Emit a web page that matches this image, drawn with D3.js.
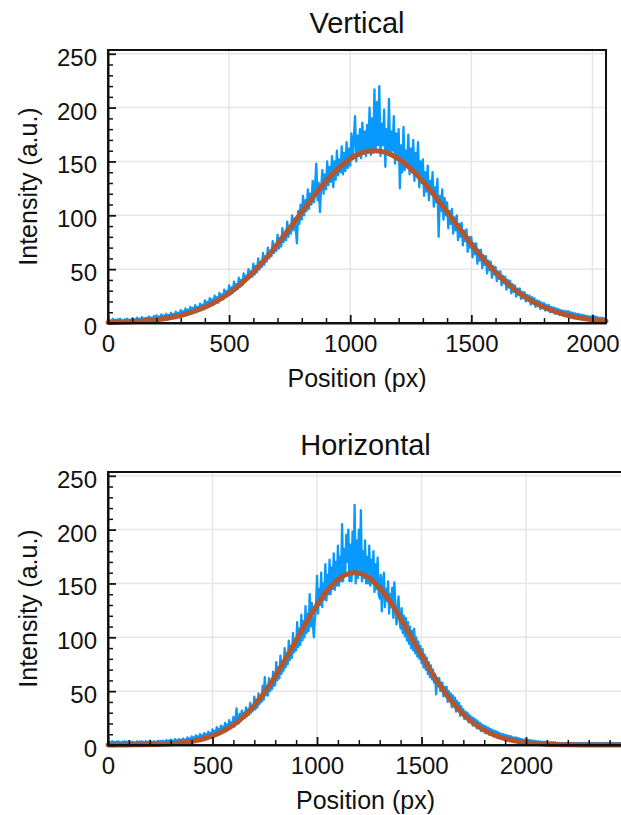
<!DOCTYPE html>
<html><head><meta charset="utf-8">
<script src="https://cdn.jsdelivr.net/npm/d3@7"></script>
<style>
body{margin:0;background:#fff}
svg{display:block}
text{font-family:"Liberation Sans",Arial,sans-serif;fill:#111}
</style>
</head><body><svg id="c" width="621" height="815"></svg>
<script>
// ---------- data ----------
const xStep = 5; // samples every 5 px along the position axis, starting at 0

const verticalSignal = [
 3,1,2.5,1.5,4,1,3,1.5,3.5,1, 4,1.5,2.5,1,3.5,1.5,4,1,3,1.5,
 4.5,2,3.5,1.5,5,2,4,2,5.5,2, 4.5,2.5,5,2,6,3,5,2.5,6.5,3,
 7,3.5,6,3,8,4,7,4.5,8.5,4.5, 7.5,5,9.5,5.5,8.5,6,10.5,6,9.5,7,
 12,6.5,11,7,13.5,8,12.5,8.5,15,9, 14,9.5,16.5,11,15,11.5,18,12,17,13,
 21,14,19.5,15,23,16,22,17,25.5,18.5, 24,19,28,21.5,26.5,22,31,24.5,29.5,25,
 35,26.5,33,28,38.5,30,36,31.5,42,33.5, 40,35,46,38,44,40,50,42,48,43,
 55,45,53,47,60,49.5,57,52,65,54, 62,57,70,60,67,62,76,65,73,67,
 82,69,79,71,88,75,84,77,94,80, 90,83,100,86,97,88,74,104,92,110,
 96,118,100,114,104,124,106,120,110,132, 112,128,148,114,130,103,126,142,120,138,
 124,150,128,145,131,155,126,150,133,160, 137,152,140,164,138,158,141,168,144,162,
 146,176,152,170,192,150,174,155,180,153, 186,160,178,155,184,162,200,156,190,158,
 217,160,205,165,220,155,185,165,198,145, 180,160,208,155,178,160,192,148,176,155,
 180,125,165,140,182,142,160,148,175,138, 162,140,170,132,158,138,168,126,150,130,
 152,118,140,122,146,114,132,120,140,108, 126,112,134,80,118,104,124,96,116,100,
 112,88,104,92,106,83,98,86,100,77, 92,80,93,72,86,76,87,66,80,70,
 80,61,74,64,74,55,68,58,68,51, 63,54,62,46,58,49,57,42,53,45,
 52,39,48,41,48,35,44,37,43,31, 40,33,39,27.5,36,29,35,24.5,32,26,
 32,22.5,29,23,28.5,20,26,21,25.5,17, 24,18,23,15,21,16,20.5,13,19,14,
 18.5,11.5,17,12,16.5,10,15,10.5,14.5,8.5, 13.5,9,13,7.5,12,8,11.5,6.5,11,7,
 11,5.5,10,6,9.5,4.5,9,5,8.5,4, 8,4.5,7.5,3.5,7,4,6.5,3,6,3.5,
 7,3,6,3.5,5.5,2.5,5,3,5,2.5,4.5,2.5
];

const horizontalSignal = [
 3,1,2.5,1.5,3.5,1,3,1.5,3,1, 3.5,1.5,2.5,1,3,1.5,3.5,1,3,1.5,
 3.5,1,3,1.5,3,1.5,2.5,1,3.5,1, 3,1.5,3.5,1,3,1.5,3.5,1.5,3,1.5,
 4,1.5,3,1.5,3.5,1.5,3,2,4,2, 3.5,2,4,2,3.5,2,4.5,2,4,2,
 5,2,4,2.5,5.5,2.5,4.5,2.5,5.5,2.5, 5,3,6,3,5,3,7,3.5,6,3.5,
 8,4,7,4.5,9,4.5,8,5,10,5.5, 9,6,11,6.5,10,7,12.5,7.5,11,8,
 14.5,8,13,9,16.5,10,15,11,18,12, 17,13,20.5,14,19,15,23,16.5,21,17.5,
 26,17,24,34,22,20,29,22,32,24, 30,25,35,26.5,33,28,39,30,36,32,
 45,33,42,35,48,38,45,40,55,42, 63,46,50,46,62,50,57,52,68,55,
 56,77,60,72,62,83,66,78,69,90, 72,85,75,97,79,92,81,104,86,98,
 88,114,91,108,93,121,97,115,100,129, 104,122,106,140,110,132,112,100,118,128,
 157,122,145,130,160,128,150,135,168,134, 158,140,172,140,165,145,178,144,170,148,
 185,148,175,152,205,152,182,158,195,170, 200,152,186,152,198,160,223,150,190,155,
 200,160,218,152,180,155,190,150,175,150, 185,148,172,150,180,142,168,145,174,140,
 136,158,124,150,160,128,145,134,152,122, 140,128,146,118,151,130,112,125,138,115,
 108,127,104,120,101,118,97,114,94,110, 90,106,88,108,85,100,82,96,80,92,
 76,89,72,84,70,81,66,77,63,74, 61,70,58,66,47,62,55,62,50,58,
 58,45,54,47,54,40,50,42,48,35, 46,37,44,31,41,33,39,27,36,29,
 33,24,31,25,30,21,28,22,26,18, 25,19,23.5,15.5,22,16.5,20.5,13,19,14,
 18,11,17,11.5,16,9.5,15,10,14,8, 13,8.5,12.5,6.5,11.5,7,10.5,5.5,10,6,
 9.5,5,9,5.5,8.5,4,8,4.5,7,3.5, 7,4,6.5,3,6,3.5,5.5,2.5,5,3,
 5,2,4.5,2.5,4.5,1.5,4,2,4,1.5, 3.5,1.5,3.5,1,3,1.5,3,1,3,1,
 3,1,2.5,1,2.5,0.5,2.5,1,2.5,0.5, 2,1,2,0.5,2,0.5,2,0.5,2,0.5,
 2,0.5,2,1,2,0.5,2,0.5,2,0.5, 2,0.5,2,1,2,0.5,2,0.5,2,0.5,
 2,0.5,2,0.5,2,1,2,0.5,2,0.5, 2,0.5,2,0.5,2,1,2,0.5,2,0.5,
 2,0.5,2,0.5,2,1,2,0.5,2,0.5,2,0.5,2
];

const verticalFitX = [0,50,100,150,200,250,300,350,400,450,500,550,600,650,700,750,800,850,900,950,1000,1050,1100,1150,1200,1250,1300,1350,1400,1450,1500,1550,1600,1650,1700,1750,1800,1850,1900,1950,2000,2056];
const verticalFitY = [0.4,0.7,1.2,2.0,3.1,4.7,7.0,10.3,14.6,20.3,27.6,36.5,47.2,59.5,73.3,88.0,103.1,117.9,131.6,143.4,152.4,158.1,160,158.1,152.4,143.4,131.6,117.9,103.1,88.0,73.3,59.5,47.2,36.5,27.6,20.3,14.6,10.3,7.0,4.7,3.1,1.8];

const horizontalFitX = [0,100,200,250,300,350,400,450,500,550,600,650,700,750,800,850,900,950,1000,1050,1100,1150,1180,1200,1250,1300,1350,1400,1450,1500,1550,1600,1650,1700,1750,1800,1850,1900,1950,2000,2050,2100,2150,2200,2300,2400,2464];
const horizontalFitY = [0,0.1,0.35,0.64,1.15,2.0,3.3,5.3,8.4,12.7,18.7,26.7,36.8,49.2,63.7,79.9,97.0,114.2,130.1,143.6,153.6,159.1,160,159.6,155.1,146.0,133.1,117.5,100.5,83.3,66.8,52.0,39.1,28.5,20.1,13.8,9.1,5.9,3.6,2.2,1.3,0.7,0.4,0.2,0.05,0,0];

const yMajorTicks = [0,50,100,150,200,250];
const xMajorTicks = [0,500,1000,1500,2000];
const titles = ["Vertical","Horizontal"];
const xAxisLabel = "Position (px)";
const yAxisLabel = "Intensity (a.u.)";
const xMaxes = [2056, 2464];
const yMax = 253.5;

// ---------- layout ----------
const panels = [
  {title:titles[0], signal:verticalSignal, fitX:verticalFitX, fitY:verticalFitY, xMax:xMaxes[0], left:108, right:606, top:50, bottom:323},
  {title:titles[1], signal:horizontalSignal, fitX:horizontalFitX, fitY:horizontalFitY, xMax:xMaxes[1], left:108, right:623, top:472, bottom:745}
];

const svg = d3.select("#c");
const FONT = '"Liberation Sans", Arial, sans-serif';

panels.forEach(p => {
  const x = d3.scaleLinear().domain([0, p.xMax]).range([p.left, p.right]);
  const y = d3.scaleLinear().domain([0, yMax]).range([p.bottom, p.top]);
  const g = svg.append("g");
  const cx = (p.left + p.right) / 2;

  // grid
  g.append("g").selectAll("line").data(xMajorTicks.filter(d => d > 0)).join("line")
    .attr("x1", d => x(d)).attr("x2", d => x(d)).attr("y1", p.top).attr("y2", p.bottom)
    .attr("stroke", "#e6e6e6").attr("stroke-width", 1.5);
  g.append("g").selectAll("line").data(yMajorTicks.filter(d => d > 0)).join("line")
    .attr("x1", p.left).attr("x2", p.right).attr("y1", d => y(d)).attr("y2", d => y(d))
    .attr("stroke", "#e6e6e6").attr("stroke-width", 1.5);

  // signal
  const sig = p.signal.map((v, i) => [i * xStep, v]);
  g.append("path").datum(sig)
    .attr("fill", "none").attr("stroke", "#0899ff").attr("stroke-width", 2.3)
    .attr("stroke-linejoin", "round")
    .attr("d", d3.line().x(d => x(d[0])).y(d => y(d[1])));

  // fit
  const fit = p.fitX.map((v, i) => [v, p.fitY[i]]);
  g.append("path").datum(fit)
    .attr("fill", "none").attr("stroke", "#b4552d").attr("stroke-width", 5)
    .attr("stroke-linecap", "round")
    .attr("d", d3.line().curve(d3.curveMonotoneX).x(d => x(d[0])).y(d => y(d[1])));

  // frame (top/right)
  g.append("rect").attr("x", p.left).attr("y", p.top)
    .attr("width", p.right - p.left).attr("height", p.bottom - p.top)
    .attr("fill", "none").attr("stroke", "#111").attr("stroke-width", 2);

  // minor ticks
  const xMinor = d3.range(0, p.xMax + 1, 100).filter(d => d % 500 !== 0);
  const yMinor = d3.range(0, 251, 10).filter(d => d % 50 !== 0);
  g.append("g").attr("transform", `translate(0,${p.bottom})`)
    .call(d3.axisBottom(x).tickValues(xMinor).tickSize(-5).tickFormat(""))
    .call(a => a.select(".domain").remove())
    .selectAll("line").attr("stroke", "#111").attr("stroke-width", 1.5);
  g.append("g").attr("transform", `translate(${p.left},0)`)
    .call(d3.axisLeft(y).tickValues(yMinor).tickSize(-5).tickFormat(""))
    .call(a => a.select(".domain").remove())
    .selectAll("line").attr("stroke", "#111").attr("stroke-width", 1.5);

  // major axes
  const xa = g.append("g").attr("transform", `translate(0,${p.bottom})`)
    .call(d3.axisBottom(x).tickValues(xMajorTicks).tickSize(-8).tickSizeOuter(0).tickPadding(12).tickFormat(d3.format("d")));
  xa.attr("font-size", 24).attr("font-family", FONT);
  xa.select(".domain").attr("stroke", "#111").attr("stroke-width", 2);
  xa.selectAll(".tick line").attr("stroke", "#111").attr("stroke-width", 1.8);
  xa.selectAll(".tick text").attr("fill", "#111");

  const ya = g.append("g").attr("transform", `translate(${p.left},0)`)
    .call(d3.axisLeft(y).tickValues(yMajorTicks).tickSize(-8).tickSizeOuter(0).tickPadding(11).tickFormat(d3.format("d")));
  ya.attr("font-size", 24).attr("font-family", FONT);
  ya.select(".domain").attr("stroke", "#111").attr("stroke-width", 2);
  ya.selectAll(".tick line").attr("stroke", "#111").attr("stroke-width", 1.8);
  ya.selectAll(".tick text").attr("fill", "#111").attr("dy", "0.48em");

  // labels
  g.append("text").attr("x", cx).attr("y", p.top - 17)
    .attr("text-anchor", "middle").attr("font-size", 29).text(p.title);
  g.append("text").attr("x", cx).attr("y", p.bottom + 64)
    .attr("text-anchor", "middle").attr("font-size", 25).text(xAxisLabel);
  g.append("text").attr("transform", `translate(37,${(p.top + p.bottom) / 2}) rotate(-90)`)
    .attr("text-anchor", "middle").attr("font-size", 25).text(yAxisLabel);
});
</script>
</body></html>
